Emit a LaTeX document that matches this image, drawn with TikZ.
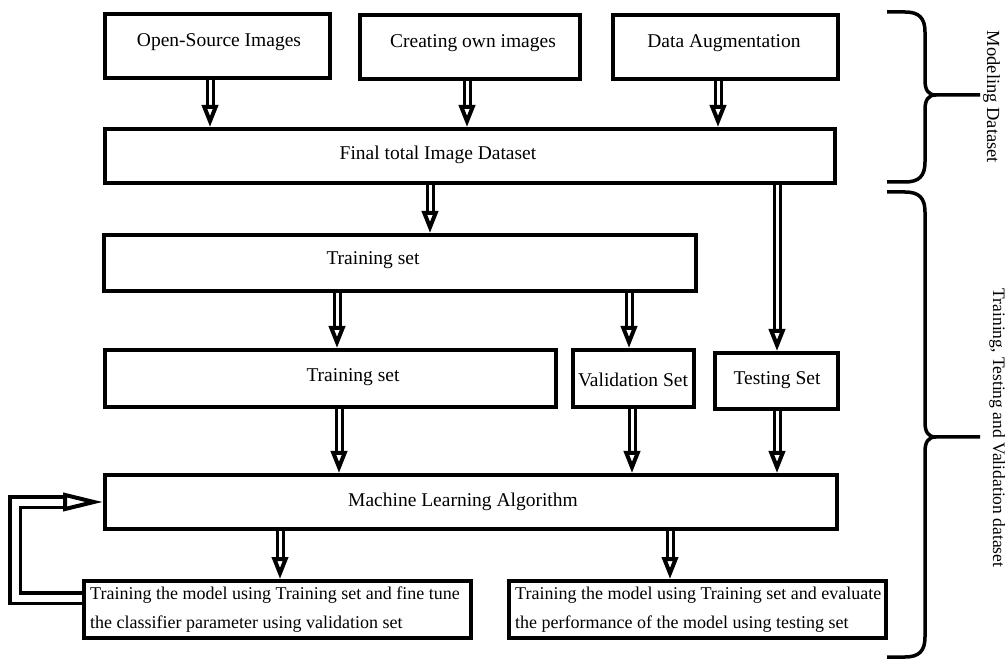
\documentclass[tikz,border=0pt]{standalone}
\usepackage{fontspec}
\setmainfont{Liberation Serif}
\usetikzlibrary{arrows.meta}
\begin{document}
\begin{tikzpicture}[x=1pt,y=-1pt,
  box/.style={draw, line width=4pt, rectangle, inner sep=0pt},
  txt/.style={font=\fontsize{19.5}{23}\selectfont, inner sep=0pt},
  btxt/.style={font=\fontsize{18}{29}\selectfont, inner sep=0pt, align=left, anchor=west},
  side/.style={inner sep=0pt, rotate=-90, anchor=base},
  dbl/.style={double, line width=3pt, double distance=3pt,
    -{Triangle[open, length=22pt, width=16pt, line width=4pt]}},
  fb/.style={double, line width=3.5pt, double distance=7pt,
    -{Triangle[open, length=40pt, width=18pt, line width=4pt]}},
  brace/.style={line width=3.5pt}]
\useasboundingbox (0,0) rectangle (1005,660);

% boxes
\node[box, minimum width=225pt, minimum height=64pt] (osi) at (217.5,46) {};
\node[txt] (osit) at (219,42) {Open-Source Images};
\node[box, minimum width=220pt, minimum height=64pt] (coi) at (470,47) {};
\node[txt] (coit) at (473,43) {Creating own images};
\node[box, minimum width=225pt, minimum height=64pt] (da) at (725.5,47) {};
\node[txt] (dat) at (724,43) {Data Augmentation};
\node[box, minimum width=730pt, minimum height=54pt] (fin) at (470,156) {};
\node[txt] (fint) at (438,155) {Final total Image Dataset};
\node[box, minimum width=592pt, minimum height=56pt] (ts1) at (400,263) {};
\node[txt] (ts1t) at (373,260) {Training set};
\node[box, minimum width=451pt, minimum height=57pt] (ts2) at (330.5,378.5) {};
\node[txt] (ts2t) at (353,377) {Training set};
\node[box, minimum width=121pt, minimum height=57pt] (val) at (633.5,378.5) {};
\node[txt] (valt) at (633,380) {Validation Set};
\node[box, minimum width=123pt, minimum height=56pt] (tst) at (776.5,381) {};
\node[txt] (tstt) at (777,380) {Testing Set};
\node[box, minimum width=732pt, minimum height=54pt] (ml) at (471,502) {};
\node[txt] (mlt) at (463,502) {Machine Learning Algorithm};
\node[box, minimum width=387pt, minimum height=57pt] (bl) at (277.5,609.5) {};
\node[btxt] (blt) at (90,610)
  {Training the model using Training set and fine tune\\the classifier parameter using validation set};
\node[box, minimum width=377pt, minimum height=57pt] (br) at (697.5,609.5) {};
\node[btxt] (brt) at (515,610)
  {Training the model using Training set and evaluate\\the performance of the model using testing set};

% arrow columns
\coordinate (a1) at (210,0);
\coordinate (a2) at (467,0);
\coordinate (a3) at (718,0);
\coordinate (a4) at (430,0);
\coordinate (a5) at (777,0);
\coordinate (a6) at (337,0);
\coordinate (a7) at (629,0);
\coordinate (a8) at (339,0);
\coordinate (a9) at (632,0);
\coordinate (a10) at (280,0);
\coordinate (a11) at (670,0);

\draw[dbl] (a1 |- osi.south) -- (a1 |- fin.north);
\draw[dbl] (a2 |- coi.south) -- (a2 |- fin.north);
\draw[dbl] (a3 |- da.south) -- (a3 |- fin.north);
\draw[dbl] (a4 |- fin.south) -- (a4 |- ts1.north);
\draw[dbl] (a5 |- fin.south) -- (a5 |- tst.north);
\draw[dbl] (a6 |- ts1.south) -- (a6 |- ts2.north);
\draw[dbl] (a7 |- ts1.south) -- (a7 |- val.north);
\draw[dbl] (a8 |- ts2.south) -- (a8 |- ml.north);
\draw[dbl] (a9 |- val.south) -- (a9 |- ml.north);
\draw[dbl] (a5 |- tst.south) -- (a5 |- ml.north);
\draw[dbl] (a10 |- ml.south) -- (a10 |- bl.north);
\draw[dbl] (a11 |- ml.south) -- (a11 |- br.north);
\draw[fb] ([yshift=11.5pt]bl.west) -- ++(-67,0) |- (ml.west);

% braces
\draw[brace] (887,12) -- (905,12) .. controls (919,12) and (925,18) .. (925,32)
  -- (925,80) .. controls (925,90) and (928,95) .. (936,95) -- (980,95)
  (936,95) .. controls (928,95) and (925,100) .. (925,110)
  -- (925,162) .. controls (925,176) and (919,182) .. (905,182) -- (887,182);
\draw[brace] (887,192) -- (905,192) .. controls (919,192) and (925,198) .. (925,212)
  -- (925,422) .. controls (925,432) and (928,437) .. (936,437) -- (980,437)
  (936,437) .. controls (928,437) and (925,442) .. (925,452)
  -- (925,637) .. controls (925,651) and (919,657) .. (905,657) -- (887,657);
\node[side, font=\fontsize{18.5}{22}\selectfont] (lab1) at (987,97) {Modeling Dataset};
\node[side, font=\fontsize{17.5}{21}\selectfont] (lab2) at (993,428) {Training, Testing and Validation dataset};
\end{tikzpicture}
\end{document}
